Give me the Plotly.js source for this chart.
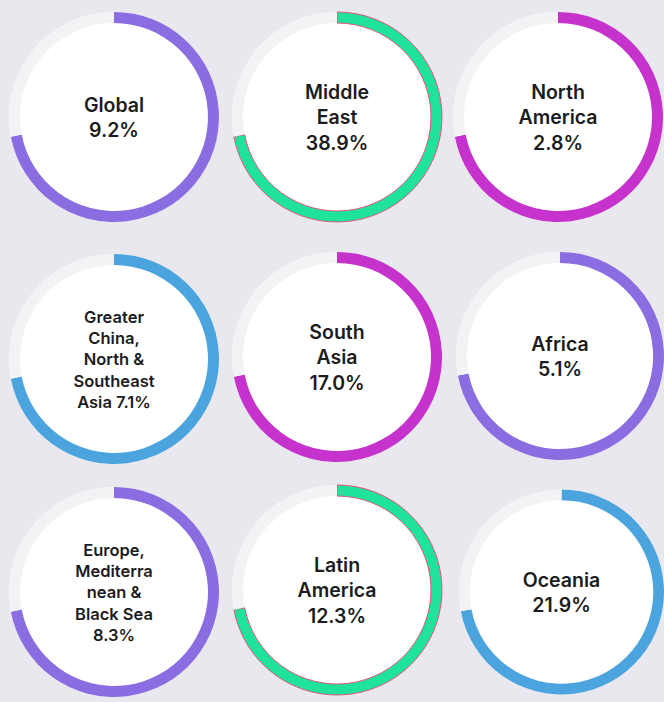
<!DOCTYPE html>
<html>
<head>
<meta charset="utf-8">
<script src="https://cdn.plot.ly/plotly-3.0.1.min.js"></script>
<style>
  html, body { margin: 0; padding: 0; background: #e8e8ee; }
  #chart { width: 664px; height: 702px; }
</style>
</head>
<body>
<div id="chart"></div>
<script>
// ---- data ----
const regions = [
  "Global",
  "Middle<br>East",
  "North<br>America",
  "Greater<br>China,<br>North &<br>Southeast<br>Asia",
  "South<br>Asia",
  "Africa",
  "Europe,<br>Mediterra<br>nean &<br>Black Sea",
  "Latin<br>America",
  "Oceania"
];
const growthPct = [9.2, 38.9, 2.8, 7.1, 17.0, 5.1, 8.3, 12.3, 21.9];
// share of each ring that is coloured (decorative arc, same for all rings)
const arcShare = [72, 72, 72, 72, 72, 72, 72, 72, 72];

// ---- styles / layout (kept apart from the data) ----
const valueJoin = ["<br>", "<br>", "<br>", " ", "<br>", "<br>", "<br>", "<br>", "<br>"];
const ringColors = ["#8a6de0", "#1fe39a", "#c532cc", "#4ba4de", "#c532cc", "#8a6de0", "#8a6de0", "#1fe39a", "#4ba4de"];
const ringEdge = [null, "#e0557c", null, null, null, null, null, "#e0557c", null];
const titleSizes = [19.5, 19.5, 19.5, 16.5, 19.5, 19.5, 16.5, 19.5, 19.5];
const trackColor = "#f3f3f5";
const bgColor = "#e8e8ee";
const W = 664, H = 702, R = 105, RING = 11;
const centers = [
  [114, 117], [337, 117], [558, 117],
  [114, 359], [337, 357], [561, 356],
  [114, 592], [337, 590], [564, 592]
];

function dom(i) {
  const [cx, cy] = centers[i];
  return {
    x: [(cx - R) / W, (cx + R) / W],
    y: [1 - (cy + R) / H, 1 - (cy - R) / H]
  };
}

const traces = [];
regions.forEach((name, i) => {
  // white disc underneath
  traces.push({
    type: "pie",
    values: [1],
    labels: ["bg" + i],
    domain: dom(i),
    marker: { colors: ["#ffffff"], line: { width: 0 } },
    textinfo: "none",
    hoverinfo: "skip",
    showlegend: false,
    sort: false
  });
  // ring
  const edge = ringEdge[i];
  traces.push({
    type: "pie",
    values: [arcShare[i], 100 - arcShare[i]],
    labels: [name + " arc", name + " track"],
    domain: dom(i),
    hole: (R - RING) / R,
    direction: "clockwise",
    rotation: 0,
    sort: false,
    marker: {
      colors: [ringColors[i], trackColor],
      line: {
        color: [edge ? edge : ringColors[i], trackColor],
        width: [edge ? 1 : 0, 0]
      }
    },
    textinfo: "none",
    hoverinfo: "skip",
    showlegend: false,
    title: {
      text: name + valueJoin[i] + growthPct[i].toFixed(1) + "%",
      position: "middle center",
      font: { family: "Inter, 'Liberation Sans', Arial, sans-serif", size: titleSizes[i], color: "#1c1c20", weight: 600 }
    }
  });
});

const layout = {
  width: W,
  height: H,
  margin: { l: 0, r: 0, t: 0, b: 0 },
  paper_bgcolor: bgColor,
  plot_bgcolor: bgColor,
  showlegend: false
};

Plotly.newPlot("chart", traces, layout, { displayModeBar: false, staticPlot: true });
</script>
</body>
</html>
